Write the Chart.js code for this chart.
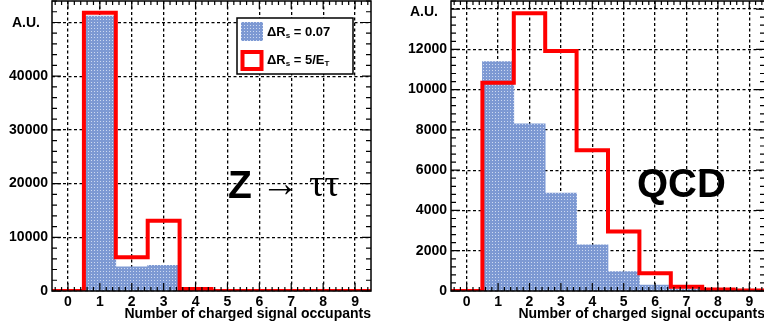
<!DOCTYPE html>
<html>
<head>
<meta charset="utf-8">
<script src="https://cdn.jsdelivr.net/npm/chart.js@4.4.0/dist/chart.umd.min.js"></script>
<style>
  body { margin: 0; background: #fff; overflow: hidden; width: 764px; height: 331px; position: relative; }
  #left { position: absolute; left: 0; top: 0; }
  #right { position: absolute; left: 380px; top: 0; }
</style>
</head>
<body>
<canvas id="left" width="380" height="331"></canvas>
<canvas id="right" width="386" height="331"></canvas>
<script>
// bins: number of charged signal occupants
const bins = [0, 1, 2, 3, 4, 5, 6, 7, 8, 9];

// Z -> tautau
const ztautauFixed = [0, 51200, 4500, 4800, 100, 0, 0, 0, 0, 0];      // dR_s = 0.07
const ztautauScaled = [0, 51800, 6300, 13100, 350, 0, 0, 0, 0, 0];    // dR_s = 5/E_T
const ztautauYTicks = [0, 10000, 20000, 30000, 40000, 50000];

// QCD
const qcdFixed = [0, 11390, 8300, 4865, 2290, 960, 300, 90, 20, 0];
const qcdScaled = [0, 10340, 13790, 11920, 6990, 2950, 880, 215, 80, 20];
const qcdYTicks = [0, 2000, 4000, 6000, 8000, 10000, 12000, 14000];

const xTitle = 'Number of charged signal occupants';
const FONT = '"Liberation Sans", Arial, sans-serif';

function dotPattern() {
  const c = document.createElement('canvas');
  c.width = 3; c.height = 3;
  const g = c.getContext('2d');
  g.fillStyle = '#7d99d3';
  g.fillRect(0, 0, 3, 3);
  g.fillStyle = '#cdd9f1';
  g.fillRect(1, 1, 1, 1);
  return g.createPattern(c, 'repeat');
}
const bluePattern = dotPattern();

function stepPoints(vals) {
  var pts = vals.map((v, i) => ({ x: bins[i] - 0.5, y: v }));
  pts.push({ x: bins[bins.length - 1] + 0.5, y: vals[vals.length - 1] });
  return pts;
}

// ROOT style frame, ticks, legend and labels
const rootFrame = {
  id: 'rootFrame',
  afterDraw(chart, args, opts) {
    const ctx = chart.ctx, a = chart.chartArea;
    const xs = chart.scales.x, ys = chart.scales.y;
    ctx.save();
    ctx.strokeStyle = '#000';
    ctx.lineWidth = 1.2;
    ctx.beginPath();
    for (let k = -2; k <= 48; k++) {
      const v = k * 0.2;
      if (v < xs.min || v > xs.max) continue;
      const px = xs.getPixelForValue(v);
      const len = k % 5 === 0 ? 8 : 4;
      ctx.moveTo(px, a.bottom); ctx.lineTo(px, a.bottom - len);
      ctx.moveTo(px, a.top); ctx.lineTo(px, a.top + len);
    }
    for (let v = 0; v <= ys.max; v += opts.yMinor) {
      const py = ys.getPixelForValue(v);
      const len = v % opts.yMajor === 0 ? 9 : 5;
      ctx.moveTo(a.left, py); ctx.lineTo(a.left + len, py);
      ctx.moveTo(a.right, py); ctx.lineTo(a.right - len, py);
    }
    ctx.stroke();
    ctx.lineWidth = 1.5;
    ctx.strokeRect(a.left, a.top, a.right - a.left, a.bottom - a.top);

    ctx.fillStyle = '#000';
    ctx.font = 'bold 14px ' + FONT;
    ctx.textAlign = 'left';
    ctx.textBaseline = 'middle';
    ctx.fillText('A.U.', opts.auX, opts.auY);

    if (opts.legend) {
      const L = opts.legend;
      ctx.fillStyle = '#fff';
      ctx.fillRect(L.x, L.y, L.w, L.h);
      ctx.lineWidth = 1.5;
      ctx.strokeRect(L.x, L.y, L.w, L.h);
      ctx.fillStyle = bluePattern;
      ctx.fillRect(L.x + 4, L.y + 4, 22, 19);
      ctx.strokeStyle = '#ff0000';
      ctx.lineWidth = 4;
      ctx.strokeRect(L.x + 5.5, L.y + 34, 19, 17);
      drawSub(ctx, L.x + 30, L.y + 14, 'ΔR', 's', ' = 0.07', '');
      drawSub(ctx, L.x + 30, L.y + 42, 'ΔR', 's', ' = 5/E', 'T');
    }

    const t = opts.label;
    ctx.fillStyle = '#000';
    ctx.textBaseline = 'alphabetic';
    for (const part of t) {
      ctx.font = part.font;
      ctx.fillText(part.text, part.x, part.y);
    }
    ctx.restore();
  }
};

function drawSub(ctx, x, y, main, sub, rest, sub2) {
  ctx.fillStyle = '#000';
  ctx.textBaseline = 'middle';
  ctx.textAlign = 'left';
  ctx.font = 'bold 13px ' + FONT;
  ctx.fillText(main, x, y);
  x += ctx.measureText(main).width;
  ctx.font = 'bold 8px ' + FONT;
  ctx.fillText(sub, x, y + 4);
  x += ctx.measureText(sub).width;
  ctx.font = 'bold 13px ' + FONT;
  ctx.fillText(rest, x, y);
  x += ctx.measureText(rest).width;
  if (sub2) {
    ctx.font = 'bold 8px ' + FONT;
    ctx.fillText(sub2, x, y + 4);
  }
}

function makeChart(id, fixed, scaled, yTicks, yMax, axisWidth, padRight, frameOpts) {
  const ctx = document.getElementById(id).getContext('2d');
  return new Chart(ctx, {
    type: 'bar',
    data: {
      datasets: [{
        type: 'line',
        label: 'ΔRs = 5/ET',
        data: stepPoints(scaled),
        borderColor: '#ff0000',
        borderWidth: 4,
        pointRadius: 0,
        stepped: true,
        fill: false,
        borderJoinStyle: 'miter',
        order: 0
      }, {
        type: 'bar',
        label: 'ΔRs = 0.07',
        data: bins.map((b, i) => ({ x: b, y: fixed[i] })),
        backgroundColor: bluePattern,
        borderWidth: 0,
        barPercentage: 1,
        categoryPercentage: 1,
        order: 1
      }]
    },
    options: {
      responsive: false,
      animation: false,
      layout: { padding: { top: 1, right: padRight, left: 0, bottom: 0 } },
      plugins: {
        legend: { display: false },
        tooltip: { enabled: false },
        rootFrame: frameOpts
      },
      scales: {
        x: {
          type: 'linear',
          min: -0.5,
          max: 9.5,
          offset: false,
          afterBuildTicks: s => { s.ticks = bins.map(v => ({ value: v })); },
          afterFit: s => { s.height = 40; s.paddingLeft = 0; s.paddingRight = 0; },
          ticks: {
            autoSkip: false,
            maxRotation: 0,
            padding: 3,
            color: '#000',
            font: { family: FONT, size: 14, weight: 'bold' },
            callback: v => String(v)
          },
          grid: { color: '#000', lineWidth: 1.3, drawTicks: false, offset: false, borderDash: [3, 2.5] },
          border: { display: false, dash: [3, 2.5] },
          title: {
            display: true,
            text: xTitle,
            align: 'end',
            color: '#000',
            font: { family: FONT, size: 14, weight: 'bold' },
            padding: { top: 0, bottom: 8 }
          }
        },
        y: {
          min: 0,
          max: yMax,
          afterBuildTicks: s => { s.ticks = yTicks.map(v => ({ value: v })); },
          afterFit: s => { s.width = axisWidth; s.paddingTop = 0; s.paddingBottom = 0; },
          ticks: {
            padding: 4,
            color: '#000',
            font: { family: FONT, size: 14, weight: 'bold' },
            callback: v => (v === yTicks[yTicks.length - 1] ? '' : String(v))
          },
          grid: { color: '#000', lineWidth: 1.3, drawTicks: false, borderDash: [3, 2.5] },
          border: { display: false, dash: [3, 2.5] }
        }
      }
    },
    plugins: [rootFrame]
  });
}

makeChart('left', ztautauFixed, ztautauScaled, ztautauYTicks, 54000, 52, 9, {
  yMinor: 2000, yMajor: 10000,
  auX: 12, auY: 23,
  legend: { x: 237, y: 18, w: 116, h: 56 },
  label: [
    { text: 'Z', x: 228, y: 198, font: 'bold 39px ' + FONT },
    { text: '→', x: 261, y: 196, font: '38px ' + FONT },
    { text: 'ττ', x: 309, y: 196, font: '38px "Liberation Serif", "DejaVu Serif", serif' }
  ]
});

makeChart('right', qcdFixed, qcdScaled, qcdYTicks, 14400, 71, 1, {
  yMinor: 400, yMajor: 2000,
  auX: 30, auY: 12,
  legend: null,
  label: [
    { text: 'QCD', x: 257, y: 197, font: 'bold 40px ' + FONT }
  ]
});
</script>
</body>
</html>
